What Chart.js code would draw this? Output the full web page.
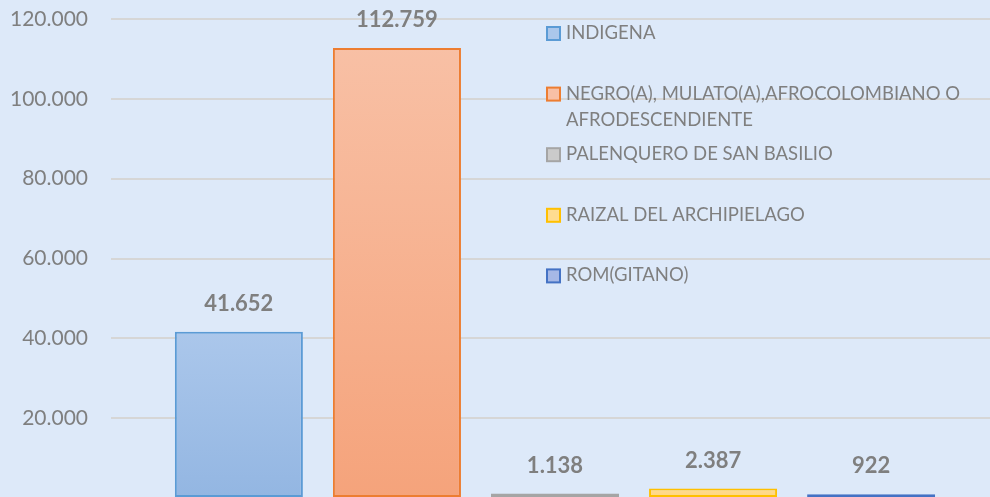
<!DOCTYPE html>
<html>
<head>
<meta charset="utf-8">
<script src="https://cdn.jsdelivr.net/npm/chart.js@4.4.1/dist/chart.umd.min.js"></script>
<style>
    html, body { margin: 0; padding: 0; overflow: hidden; background: #dde9f9; }
    #chart { display: block; }
</style>
</head>
<body>
<canvas id="chart" width="1010" height="500"></canvas>
<script>
// --- Data ---
const groups = ['INDIGENA', 'NEGRO(A), MULATO(A),AFROCOLOMBIANO O AFRODESCENDIENTE', 'PALENQUERO DE SAN BASILIO', 'RAIZAL DEL ARCHIPIELAGO', 'ROM(GITANO)'];
const counts = [41652, 112759, 1138, 2387, 922];
const yTicks = [0, 20000, 40000, 60000, 80000, 100000, 120000];

// --- Colours (top of gradient, bottom of gradient, border) ---
const fillTop = ['#abc7eb', '#f8c0a5', '#cbcbcb', '#ffdc90', '#a6b8e6'];
const fillBottom = ['#93b6e2', '#f5a37b', '#c2c2c2', '#ffd680', '#9aaee0'];
const borderColors = ['#5b9bd5', '#ed7d31', '#a5a5a5', '#ffc000', '#4472c4'];

const textGray = '#7f7f7f';
const fontName = 'Lato, "Open Sans", sans-serif';

// 120.000 style numbers
function fmt(n) {
    return n.toString().replace(/\B(?=(\d{3})+(?!\d))/g, '.');
}

// gradient per bar, from its own top to the axis
function barFill(ctx, i) {
    const chart = ctx.chart;
    if (!chart.chartArea || !chart.scales.y) return fillBottom[i];
    const yTop = chart.scales.y.getPixelForValue(counts[i]);
    const yBot = chart.scales.y.getPixelForValue(0);
    const g = chart.ctx.createLinearGradient(0, yTop, 0, yBot);
    g.addColorStop(0, fillTop[i]);
    g.addColorStop(1, fillBottom[i]);
    return g;
}

// value labels above each bar
const valueLabels = {
    id: 'valueLabels',
    afterDatasetsDraw(chart) {
        const c = chart.ctx;
        c.save();
        c.font = 'bold 22px ' + fontName;
        c.fillStyle = textGray;
        c.textAlign = 'center';
        c.textBaseline = 'middle';
        chart.data.datasets.forEach((ds, i) => {
            const bar = chart.getDatasetMeta(i).data[0];
            c.fillText(fmt(ds.data[0]), bar.x, bar.y - 28);
        });
        c.restore();
    }
};

// legend drawn inside the plot, one row every ~60px, long names wrapped
const sideLegend = {
    id: 'sideLegend',
    afterDraw(chart) {
        const c = chart.ctx;
        const x0 = 547, firstY = 33, step = 60.6, maxW = 400, lineH = 26;
        c.save();
        c.font = '18.5px ' + fontName;
        c.textBaseline = 'middle';
        chart.data.datasets.forEach((ds, i) => {
            const y = firstY + i * step;
            c.fillStyle = fillTop[i];
            c.fillRect(x0, y - 6, 13, 13);
            c.strokeStyle = borderColors[i];
            c.lineWidth = 2;
            c.strokeRect(x0, y - 6, 13, 13);
            // simple word wrap
            const words = ds.label.split(' ');
            let line = '', lines = [];
            words.forEach(w => {
                const test = line ? line + ' ' + w : w;
                if (c.measureText(test).width > maxW && line) {
                    lines.push(line);
                    line = w;
                } else {
                    line = test;
                }
            });
            lines.push(line);
            c.fillStyle = textGray;
            lines.forEach((l, k) => c.fillText(l, x0 + 19, y + k * lineH));
        });
        c.restore();
    }
};

const chart = new Chart(document.getElementById('chart'), {
    type: 'bar',
    data: {
        labels: [''],
        datasets: groups.map((g, i) => ({
            label: g,
            data: [counts[i]],
            backgroundColor: ctx => barFill(ctx, i),
            borderColor: borderColors[i],
            borderWidth: 2,
            borderSkipped: false,
            categoryPercentage: 0.89,
            barPercentage: 0.81
        }))
    },
    options: {
        responsive: false,
        animation: false,
        devicePixelRatio: 1,
        layout: { padding: { top: 19, right: 11, bottom: 2, left: 0 } },
        plugins: {
            legend: { display: false },
            tooltip: { enabled: false }
        },
        scales: {
            x: { display: false },
            y: {
                min: 0,
                max: 120000,
                afterBuildTicks: axis => { axis.ticks = yTicks.map(v => ({ value: v })); },
                // plot starts at x=111 like the original; no extra label padding top/bottom
                afterFit: axis => { axis.width = 111; axis.paddingTop = 0; axis.paddingBottom = 0; },
                border: { display: false },
                grid: {
                    color: ctx => ctx.tick && ctx.tick.value === 0 ? 'rgba(0,0,0,0)' : '#d6d6d6',
                    lineWidth: 2,
                    drawTicks: false
                },
                ticks: {
                    padding: 23,
                    color: textGray,
                    font: { family: fontName, size: 21 },
                    callback: v => v === 0 ? '' : fmt(v)
                }
            }
        }
    },
    plugins: [valueLabels, sideLegend]
});
</script>
</body>
</html>
